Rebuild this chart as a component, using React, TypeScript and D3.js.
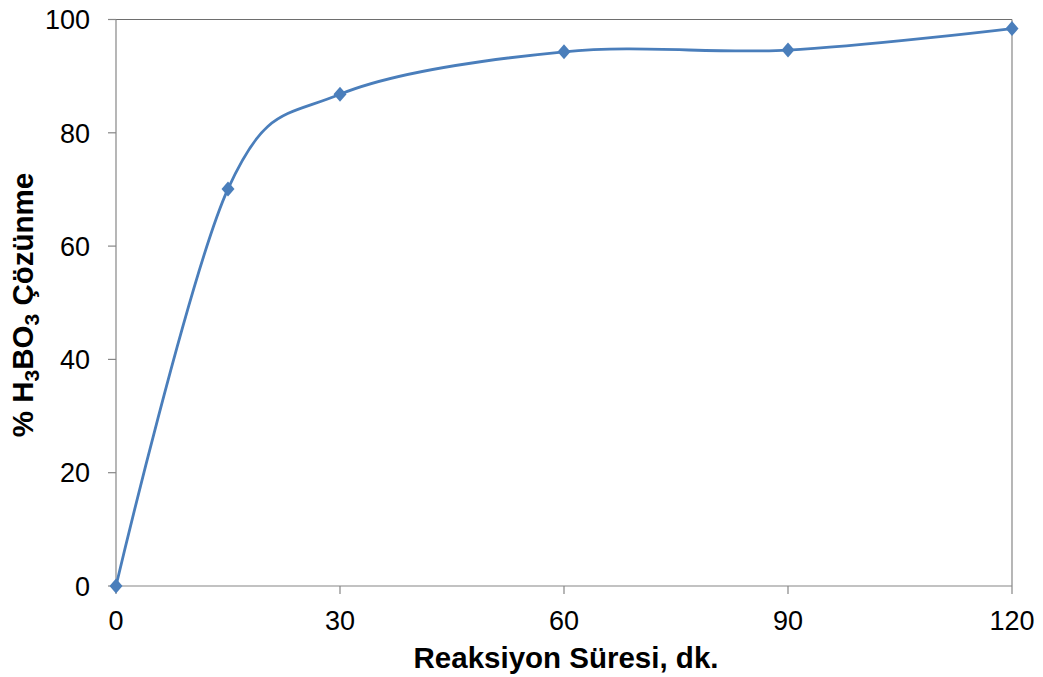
import React from "react";
import * as d3 from "d3";

const times = [0, 15, 30, 60, 90, 120];
const dissolution = [0, 70.1, 86.8, 94.3, 94.6, 98.4];
const xTicks = [0, 30, 60, 90, 120];
const yTicks = [0, 20, 40, 60, 80, 100];

const W = 1043;
const H = 677;
const left = 116;
const right = 1012;
const top = 19.5;
const bottom = 586;
const blue = "#4A7EBB";
const axisGray = "#868686";
const font = "'Liberation Sans', Arial, sans-serif";

export default function App() {
  const x = d3.scaleLinear().domain([0, 120]).range([left, right]);
  const y = d3.scaleLinear().domain([0, 100]).range([bottom, top]);
  const pts: [number, number][] = times.map((t, i) => [t, dissolution[i]]);
  const line = d3
    .line<[number, number]>()
    .x((d) => x(d[0]))
    .y((d) => y(d[1]))
    .curve(d3.curveCardinal.tension(0));
  const diamond = (cx: number, cy: number) =>
    `M${cx},${cy - 7.5}L${cx + 6.5},${cy}L${cx},${cy + 7.5}L${cx - 6.5},${cy}Z`;

  return (
    <svg
      width={W}
      height={H}
      style={{ position: "absolute", left: 0, top: 0, background: "#fff" }}
    >
      <line x1={left} x2={right} y1={top} y2={top} stroke="#6e6e6e" strokeWidth={1.2} />
      <line x1={right} x2={right} y1={top} y2={bottom} stroke={axisGray} strokeWidth={1.2} />
      <line x1={left} x2={left} y1={top} y2={bottom} stroke={axisGray} strokeWidth={1.2} />
      <line x1={left} x2={right} y1={bottom} y2={bottom} stroke={axisGray} strokeWidth={1.2} />
      {yTicks.map((t) => (
        <g key={"y" + t}>
          <line x1={left - 8} x2={left} y1={y(t)} y2={y(t)} stroke={axisGray} strokeWidth={1.2} />
          <text
            x={90}
            y={y(t)}
            dy="0.36em"
            textAnchor="end"
            fontFamily={font}
            fontSize={27}
            fill="#000"
          >
            {t}
          </text>
        </g>
      ))}
      {xTicks.map((t) => (
        <g key={"x" + t}>
          <line x1={x(t)} x2={x(t)} y1={bottom} y2={bottom + 8} stroke={axisGray} strokeWidth={1.2} />
          <text
            x={x(t)}
            y={630}
            textAnchor="middle"
            fontFamily={font}
            fontSize={27}
            fill="#000"
          >
            {t}
          </text>
        </g>
      ))}
      <path d={line(pts) || ""} fill="none" stroke={blue} strokeWidth={2.8} />
      {pts.map((p, i) => (
        <path key={"m" + i} d={diamond(x(p[0]), y(p[1]))} fill={blue} />
      ))}
      <text
        x={566}
        y={668}
        textAnchor="middle"
        fontFamily={font}
        fontSize={29.5}
        fontWeight="bold"
        fill="#000"
      >
        Reaksiyon Süresi, dk.
      </text>
      <text
        transform="translate(33,305) rotate(-90)"
        textAnchor="middle"
        fontFamily={font}
        fontSize={29.5}
        fontWeight="bold"
        fill="#000"
      >
        % H<tspan fontSize={21} dy={6}>3</tspan>
        <tspan dy={-6}>BO</tspan>
        <tspan fontSize={21} dy={6}>3</tspan>
        <tspan dy={-6}> Çözünme</tspan>
      </text>
    </svg>
  );
}
